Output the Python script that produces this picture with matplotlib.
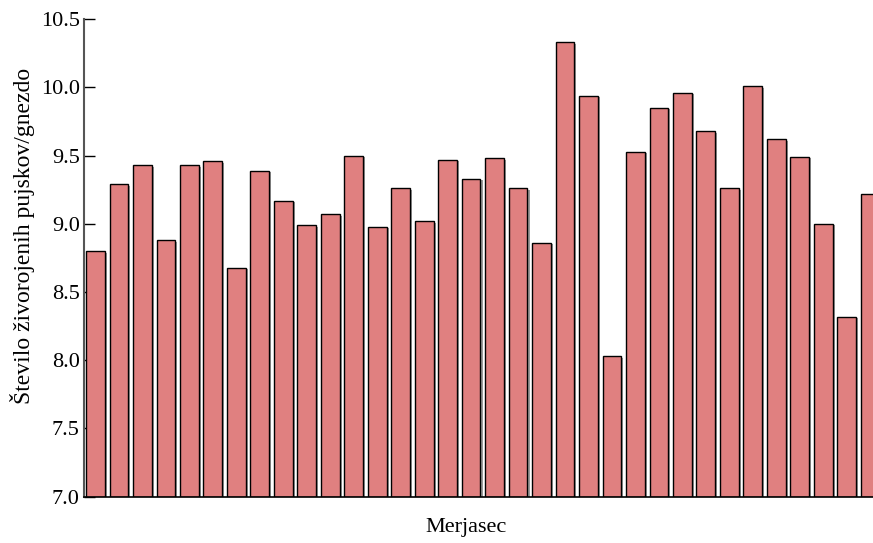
import numpy as np
import matplotlib
matplotlib.use('Agg')
import matplotlib.pyplot as plt
import matplotlib.patheffects as pe

# Datos: numero de pujskov por merjasec
merjasci = [f"M{i + 1}" for i in range(34)]
pujski = [8.80, 9.29, 9.43, 8.88, 9.43, 9.46, 8.68, 9.39, 9.17, 8.99,
          9.07, 9.50, 8.98, 9.26, 9.02, 9.47, 9.33, 9.48, 9.26, 8.86,
          10.33, 9.94, 8.03, 9.53, 9.85, 9.96, 9.68, 9.26, 10.01, 9.62,
          9.49, 9.00, 8.32, 9.22]
y_ticks = [7.0, 7.5, 8.0, 8.5, 9.0, 9.5, 10.0, 10.5]

plt.rcParams['font.family'] = ['Liberation Serif', 'DejaVu Serif']

fig = plt.figure(figsize=(8.73, 5.43), dpi=100)
ax = fig.add_axes([0.0962, 0.0853, 0.9038, 0.8792])

x = np.arange(len(pujski))
bars = ax.bar(x, np.array(pujski) - 7.0, bottom=7.0, width=0.8,
              color='#e08080', edgecolor='black', linewidth=1.0, zorder=2)
for b in bars:
    b.set_path_effects([pe.SimplePatchShadow(offset=(1.5, -1), shadow_rgbFace='gray', alpha=0.8),
                        pe.Normal()])

ax.set_xlim(-0.49, 33.12)
ax.set_ylim(7.0, 10.5)
ax.set_yticks(y_ticks)
ax.set_yticklabels([f"{v:.1f}" for v in y_ticks], fontsize=16)
ax.set_xticks([])

ax.spines['top'].set_visible(False)
ax.spines['right'].set_visible(False)
ax.spines['left'].set_color('#555555')
ax.spines['left'].set_linewidth(1.5)
ax.spines['bottom'].set_linewidth(1.2)
ax.tick_params(axis='y', direction='in', length=8, width=1, pad=3)

ax.set_xlabel('Merjasec', fontsize=16)
ax.set_ylabel('Število živorojenih pujskov/gnezdo', fontsize=17)
ax.xaxis.set_label_coords(0.484, -0.045)
ax.yaxis.set_label_coords(-0.062, 0.546)

fig.savefig('out.png', dpi=100)
